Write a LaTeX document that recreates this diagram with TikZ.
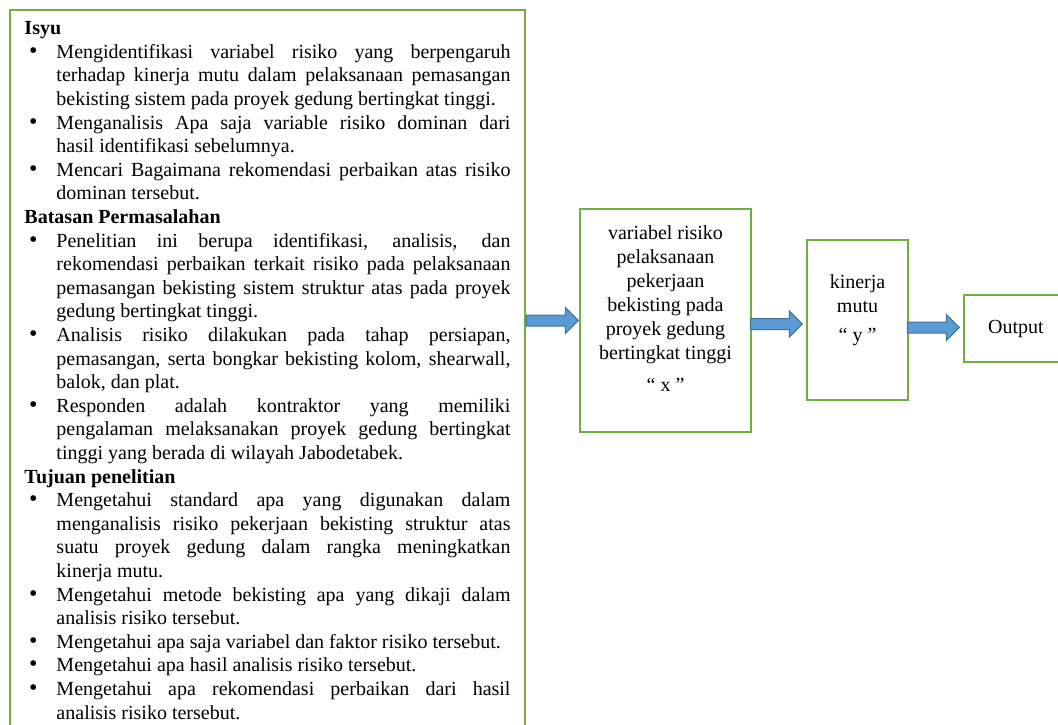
\documentclass[tikz,border=0pt]{standalone}
\usepackage{fontspec}
\setmainfont{Liberation Serif}
\usetikzlibrary{positioning,shapes.arrows}
\definecolor{hijau}{HTML}{70AD47}
\definecolor{biru}{HTML}{5B9BD5}
\definecolor{birutua}{HTML}{41719C}
\tikzset{
    %Define style for boxes
    kotak/.style={
           rectangle,
           draw=hijau, line width=1pt,
           align=center,
           inner sep=0pt,
           font=\fontsize{10}{12}\selectfont},
    %Define style for the big text box
    teks/.style={
           rectangle,
           draw=hijau, line width=1pt,
           anchor=north west,
           text width=243pt,
           inner xsep=7.25pt, inner ysep=0.5pt,
           align=justify,
           font=\fontsize{10}{11.8}\selectfont},
    % Define arrow style
    panah/.style={
           single arrow,
           draw=birutua, fill=biru,
           line width=0.5pt,
           inner sep=2.5pt,
           minimum height=26pt,
           single arrow head extend=3.75pt,
           anchor=tip}
}
\newcommand{\butir}[1]{\par\noindent\hangindent=16pt\hangafter=1%
  \hbox to 16pt{\hspace{2.3pt}{\large\textbullet}\hfil}#1\par}
\newcommand{\judul}[1]{\par\noindent\textbf{#1}\par}

\begin{document}
\begin{tikzpicture}[x=0.5pt,y=-0.5pt]
\useasboundingbox (0,0) rectangle (1058,724);
\clip (0,0) rectangle (1058,724);
\node[teks] (isu) at (9,9) {\hyphenpenalty=10000 \exhyphenpenalty=10000 \tolerance=10000
\judul{Isyu}
\butir{Mengidentifikasi variabel risiko yang berpengaruh\linebreak terhadap kinerja mutu dalam pelaksanaan pemasangan\linebreak bekisting sistem pada proyek gedung bertingkat tinggi.}
\butir{Menganalisis Apa saja variable risiko dominan dari\linebreak hasil identifikasi sebelumnya.}
\butir{Mencari Bagaimana rekomendasi perbaikan atas risiko\linebreak dominan tersebut.}
\judul{Batasan Permasalahan}
\butir{Penelitian ini berupa identifikasi, analisis, dan\linebreak rekomendasi perbaikan terkait risiko pada pelaksanaan\linebreak pemasangan bekisting sistem struktur atas pada proyek\linebreak gedung bertingkat tinggi.}
\butir{Analisis risiko dilakukan pada tahap persiapan,\linebreak pemasangan, serta bongkar bekisting kolom, shearwall,\linebreak balok, dan plat.}
\butir{Responden adalah kontraktor yang memiliki\linebreak pengalaman melaksanakan proyek gedung bertingkat\linebreak tinggi yang berada di wilayah Jabodetabek.}
\judul{Tujuan penelitian}
\butir{Mengetahui standard apa yang digunakan dalam\linebreak menganalisis risiko pekerjaan bekisting struktur atas\linebreak suatu proyek gedung dalam rangka meningkatkan\linebreak kinerja mutu.}
\butir{Mengetahui metode bekisting apa yang dikaji dalam\linebreak analisis risiko tersebut.}
\butir{Mengetahui apa saja variabel dan faktor risiko tersebut.}
\butir{Mengetahui apa hasil analisis risiko tersebut.}
\butir{Mengetahui apa rekomendasi perbaikan dari hasil\linebreak analisis risiko tersebut.}
\noindent\rule{0pt}{12pt}\par
};
\node[kotak, minimum width=85.5pt, minimum height=111.5pt] (var) at (665.5,320.5)
  {variabel risiko\\pelaksanaan\\pekerjaan\\bekisting pada\\proyek gedung\\bertingkat tinggi\\[4pt]“ x ”\\ \mbox{}};
\node[kotak, minimum width=50.5pt, minimum height=80pt] (mutu) at (857.5,320)
  {kinerja\\mutu\\[2.5pt]“ y ”\\[-0.5pt] \mbox{}};
\node[kotak, minimum width=52.5pt, minimum height=33.5pt] (hasil) at (1016,328.5) {Output};
\node[panah] (p1) at (var.west) {};
\node[panah] (p2) at ([shift={(-3,4)}]mutu.west) {};
\node[panah] (p3) at ([shift={(-2.5,-1)}]hasil.west) {};
\end{tikzpicture}
\end{document}
